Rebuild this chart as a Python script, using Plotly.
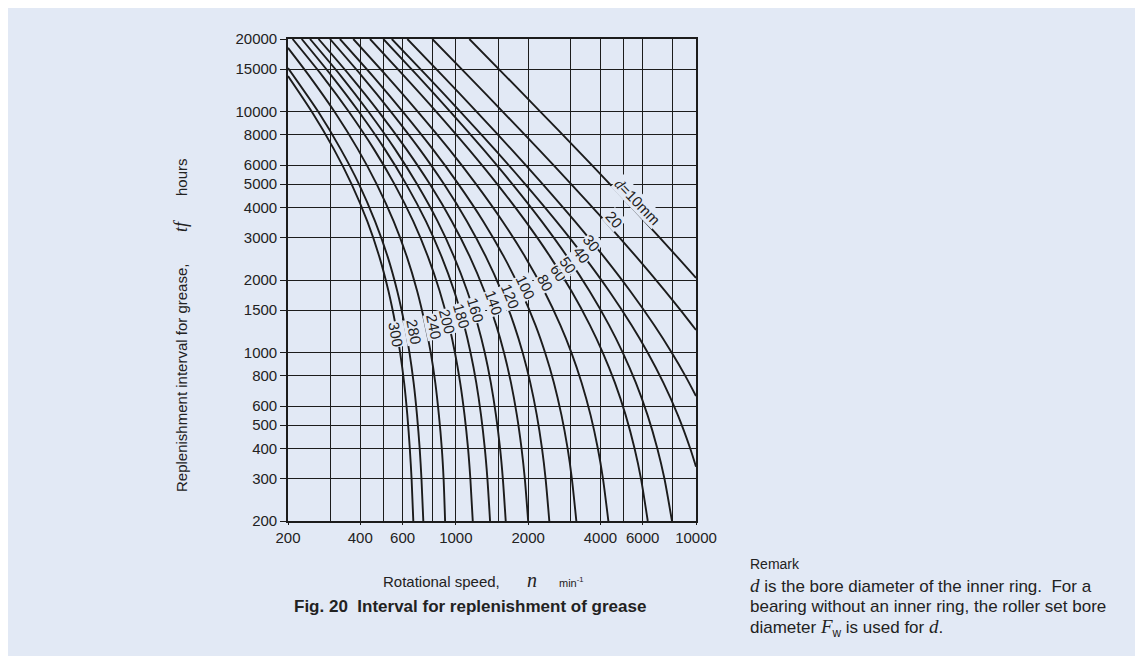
import math
import plotly.graph_objects as go

# ---------------- data ----------------
# rotational speed n (min^-1) and replenishment interval t (hours) per bore diameter d
N_D300 = [200, 251, 310, 368, 428, 480, 524, 561, 586, 609, 628, 643, 654, 665]
T_D300 = [14040, 10000, 7000, 5000, 3500, 2500, 1800, 1300, 1000, 750, 550, 400, 300, 200]

N_D280 = [200, 267, 331, 395, 461, 520, 570, 612, 641, 667, 689, 707, 719, 732]
T_D280 = [15150, 10000, 7000, 5000, 3500, 2500, 1800, 1300, 1000, 750, 550, 400, 300, 200]

N_D240 = [200, 246, 312, 390, 468, 551, 625, 690, 746, 786, 821, 850, 874, 889, 902]
T_D240 = [18380, 14000, 10000, 7000, 5000, 3500, 2500, 1800, 1300, 1000, 750, 550, 400, 300, 200]

N_D200 = [209, 279, 358, 455, 555, 665, 765, 856, 936, 991, 1042, 1087, 1124, 1149, 1176]
T_D200 = [20000, 14000, 10000, 7000, 5000, 3500, 2500, 1800, 1300, 1000, 750, 550, 400, 300, 200]

N_D180 = [228, 305, 394, 505, 621, 751, 872, 984, 1082, 1151, 1216, 1273, 1320, 1353, 1388]
T_D180 = [20000, 14000, 10000, 7000, 5000, 3500, 2500, 1800, 1300, 1000, 750, 550, 400, 300, 200]

N_D160 = [247, 333, 432, 557, 689, 840, 982, 1115, 1234, 1319, 1398, 1469, 1528, 1569, 1613]
T_D160 = [20000, 14000, 10000, 7000, 5000, 3500, 2500, 1800, 1300, 1000, 750, 550, 400, 300, 200]

N_D140 = [268, 364, 477, 621, 779, 963, 1143, 1314, 1472, 1586, 1696, 1795, 1877, 1937, 2000]
T_D140 = [20000, 14000, 10000, 7000, 5000, 3500, 2500, 1800, 1300, 1000, 750, 550, 400, 300, 200]

N_D120 = [299, 407, 536, 705, 892, 1113, 1333, 1548, 1749, 1897, 2041, 2173, 2284, 2364, 2450]
T_D120 = [20000, 14000, 10000, 7000, 5000, 3500, 2500, 1800, 1300, 1000, 750, 550, 400, 300, 200]

N_D100 = [329, 452, 601, 800, 1025, 1301, 1584, 1869, 2145, 2352, 2560, 2753, 2920, 3041, 3175]
T_D100 = [20000, 14000, 10000, 7000, 5000, 3500, 2500, 1800, 1300, 1000, 750, 550, 400, 300, 200]

N_D80 = [374, 517, 694, 935, 1214, 1566, 1941, 2332, 2723, 3028, 3339, 3639, 3902, 4098, 4316]
T_D80 = [20000, 14000, 10000, 7000, 5000, 3500, 2500, 1800, 1300, 1000, 750, 550, 400, 300, 200]

N_D60 = [439, 611, 828, 1128, 1487, 1953, 2469, 3029, 3615, 4090, 4594, 5094, 5549, 5900, 6297]
T_D60 = [20000, 14000, 10000, 7000, 5000, 3500, 2500, 1800, 1300, 1000, 750, 550, 400, 300, 200]

N_D50 = [499, 697, 947, 1297, 1720, 2278, 2906, 3601, 4344, 4955, 5615, 6285, 6901, 7386, 7943]
T_D50 = [20000, 14000, 10000, 7000, 5000, 3500, 2500, 1800, 1300, 1000, 750, 550, 400, 300, 200]

N_D40 = [541, 761, 1043, 1445, 1944, 2623, 3421, 4346, 5385, 6289, 7310, 8403, 9461, 10000]
T_D40 = [20000, 14000, 10000, 7000, 5000, 3500, 2500, 1800, 1300, 1000, 750, 550, 400, 336]

N_D30 = [628, 886, 1219, 1697, 2299, 3133, 4132, 5319, 6693, 7918, 9025, 10000]
T_D30 = [20000, 14000, 10000, 7000, 5000, 3500, 2500, 1800, 1300, 1000, 800, 660]

N_D20 = [798, 1131, 1566, 2203, 3020, 4186, 5634, 7441, 8621, 10000]
T_D20 = [20000, 14000, 10000, 7000, 5000, 3500, 2500, 1800, 1500, 1240]

N_D10 = [1138, 1616, 2246, 3173, 4378, 6120, 8333, 10000]
T_D10 = [20000, 14000, 10000, 7000, 5000, 3500, 2500, 2040]

# curve labels (text, anchor on chart in data units, rotation)
LABEL_TEXT = ["300", "280", "240", "200", "180", "160", "140", "120", "100",
              "80", "60", "50", "40", "30", "20",
              '<span style="font-family:Liberation Serif"><i>d</i></span>=10mm']
LABEL_N = [562, 670, 812, 922, 1059, 1211, 1443, 1691, 1953,
           2354, 2667, 2950, 3327, 3684, 4565, 5708]
LABEL_T = [1187, 1225, 1285, 1348, 1414, 1497, 1620, 1713, 1865,
           1953, 2142, 2308, 2541, 2836, 3570, 4254]
LABEL_ANGLE = [80, 79, 78, 76, 74, 73, 70, 68, 65, 62, 58, 56, 53, 51, 48, 46]

X_TICKS = [200, 400, 600, 1000, 2000, 4000, 6000, 10000]
X_MINOR = [300, 500, 800, 1500, 3000, 5000, 8000]
Y_TICKS = [200, 300, 400, 500, 600, 800, 1000, 1500, 2000, 3000, 4000,
           5000, 6000, 8000, 10000, 15000, 20000]

# ---------------- styling ----------------
BG = "#e2e9f5"
INK = "#1c1c1c"
TXT = "#222222"
SANS = "Liberation Sans, Arial, sans-serif"
SERIF = "Liberation Serif, Times New Roman, serif"

CURVES = [(N_D300, T_D300), (N_D280, T_D280), (N_D240, T_D240), (N_D200, T_D200),
          (N_D180, T_D180), (N_D160, T_D160), (N_D140, T_D140), (N_D120, T_D120),
          (N_D100, T_D100), (N_D80, T_D80), (N_D60, T_D60), (N_D50, T_D50),
          (N_D40, T_D40), (N_D30, T_D30), (N_D20, T_D20), (N_D10, T_D10)]

fig = go.Figure()
for n_vals, t_vals in CURVES:
    fig.add_trace(go.Scatter(
        x=n_vals, y=t_vals, mode="lines",
        line=dict(color=INK, width=1.9, shape="spline", smoothing=0.7),
        hoverinfo="skip", showlegend=False))

annotations = []
for txt, n, t, ang in zip(LABEL_TEXT, LABEL_N, LABEL_T, LABEL_ANGLE):
    annotations.append(dict(
        x=math.log10(n), y=math.log10(t), xref="x", yref="y",
        text=txt, showarrow=False, textangle=ang,
        font=dict(family=SANS, size=15, color=TXT),
        bgcolor=BG, borderpad=0))

# figure is placed on the page with an 8 px body margin;
# plot area on the page: x 288..696 px, y 39..521 px
FIG_W, FIG_H = 1128, 648
PAGE_OFF = 8
PL, PT, PW, PH = 288, 39, 408, 482


def px(xp):
    return (xp - PL) / PW


def py(yp):
    return (PT + PH - yp) / PH


def text_at(xp, yp, text, size=15, xanchor="left", angle=0, family=SANS):
    annotations.append(dict(
        x=px(xp), y=py(yp), xref="paper", yref="paper", text=text,
        showarrow=False, xanchor=xanchor, yanchor="middle", textangle=angle,
        font=dict(family=family, size=size, color=TXT)))


SER_SPAN = '<span style="font-family:Liberation Serif;font-size:19px"><i>{}</i></span>'

# x axis title
text_at(381, 581, "Rotational speed,", size=15)
text_at(532, 580, "<i>n</i>", size=20, xanchor="center", family=SERIF)
text_at(557, 582, "min<sup>-1</sup>", size=11)

# y axis title (rotated)
text_at(181, 378, "Replenishment interval for grease,", size=15, xanchor="center", angle=-90)
text_at(181, 226, "<i>tf</i>", size=18, xanchor="center", angle=-90, family=SERIF)
text_at(181, 177, "hours", size=15, xanchor="center", angle=-90)

# remark
text_at(748, 564, "Remark", size=14)
text_at(748, 585, SER_SPAN.format("d") + " is the bore diameter of the inner ring.&nbsp; For a", size=17)
text_at(748, 606, "bearing without an inner ring, the roller set bore", size=17)
text_at(748, 628, "diameter " + SER_SPAN.format("F") + "<sub>w</sub> is used for "
        + SER_SPAN.format("d") + ".", size=17)

# caption
text_at(470, 606, "<b>Fig. 20&nbsp; Interval for replenishment of grease</b>", size=17, xanchor="center")

axis_common = dict(
    type="log", showgrid=True, gridcolor=INK, gridwidth=1,
    showline=True, linecolor=INK, linewidth=1.6, mirror=True,
    ticks="outside", tickcolor=INK, tickwidth=1, zeroline=False,
    tickfont=dict(family=SANS, size=15, color=TXT),
)

fig.update_layout(
    width=FIG_W, height=FIG_H,
    margin=dict(l=PL - PAGE_OFF, r=FIG_W - (PL - PAGE_OFF) - PW,
                t=PT - PAGE_OFF, b=FIG_H - (PT - PAGE_OFF) - PH, pad=0),
    paper_bgcolor=BG, plot_bgcolor=BG,
    showlegend=False,
    font=dict(family=SANS, size=15, color=TXT),
    xaxis=dict(range=[math.log10(200), math.log10(10000)],
               tickmode="array", tickvals=X_TICKS, ticktext=[str(v) for v in X_TICKS],
               ticklen=2,
               minor=dict(tickmode="array", tickvals=X_MINOR, showgrid=True,
                          gridcolor=INK, gridwidth=1, ticks=""),
               **axis_common),
    yaxis=dict(range=[math.log10(200), math.log10(20000)],
               tickmode="array", tickvals=Y_TICKS, ticktext=[str(v) for v in Y_TICKS],
               ticklen=6, **axis_common),
    annotations=annotations,
)

fig.write_html("out.html")
